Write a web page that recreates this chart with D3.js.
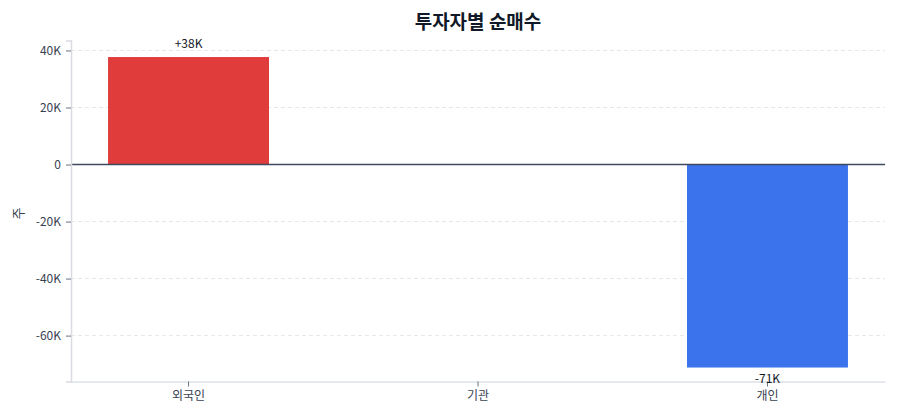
<!DOCTYPE html>
<html>
<head>
<meta charset="utf-8">
<script src="https://cdn.jsdelivr.net/npm/d3@7"></script>
<style>
  body { margin: 0; background: #fff; }
  svg text { font-family: "Noto Sans CJK KR", "Noto Sans", sans-serif; }
</style>
</head>
<body>
<div id="chart"></div>
<script>
const investors = ["외국인", "기관", "개인"];
const netBuy = [37700, 0, -71200];
const valueLabels = ["+38K", "", "-71K"];
const yTicks = [-60000, -40000, -20000, 0, 20000, 40000];
const barColors = ["#e03c3c", "#9ca3af", "#3b73ed"];

var margin = {top: 40.5, right: 15, bottom: 38.5, left: 71},
    width = 900 - margin.left - margin.right,
    height = 420 - margin.top - margin.bottom;

var svg = d3.select("#chart")
  .append("svg")
  .attr("width", 900)
  .attr("height", 420)
  .append("g")
  .attr("transform", "translate(" + margin.left + "," + margin.top + ")");

var x = d3.scaleBand()
  .domain(investors)
  .range([0, width])
  .paddingInner(0.444)
  .paddingOuter(0.128);

var y = d3.scaleLinear()
  .domain([-76100, 43500])
  .range([height, 0]);

// grid
svg.append("g")
  .selectAll("line")
  .data(yTicks.filter(d => d !== 0))
  .enter()
  .append("line")
  .attr("x1", 0)
  .attr("x2", width)
  .attr("y1", d => y(d))
  .attr("y2", d => y(d))
  .attr("stroke", "#e5e7eb")
  .attr("stroke-dasharray", "4,3");

// bars
svg.append("g")
  .selectAll("rect")
  .data(investors)
  .enter()
  .append("rect")
  .attr("x", d => x(d))
  .attr("width", x.bandwidth())
  .attr("y", (d, i) => y(Math.max(0, netBuy[i])))
  .attr("height", (d, i) => Math.abs(y(netBuy[i]) - y(0)))
  .attr("fill", (d, i) => barColors[i]);

// zero line
svg.append("line")
  .attr("x1", 0)
  .attr("x2", width)
  .attr("y1", y(0))
  .attr("y2", y(0))
  .attr("stroke", "#3f4a5e")
  .attr("stroke-width", 1.5);

// y axis
var yAxis = svg.append("g")
  .call(d3.axisLeft(y).tickValues(yTicks).tickSize(5).tickPadding(5)
    .tickFormat(d => d === 0 ? "0" : (d / 1000) + "K"));
yAxis.select(".domain").attr("stroke", "#d9dce3").attr("stroke-width", 1.5);
yAxis.selectAll(".tick line").attr("stroke", "#6b7280");
yAxis.selectAll("text").attr("fill", "#374151").style("font-size", "12px");

// x axis
var xAxis = svg.append("g")
  .attr("transform", "translate(0," + height + ")")
  .call(d3.axisBottom(x).tickSize(5).tickPadding(5).tickSizeOuter(0));
xAxis.select(".domain").attr("stroke", "#cbd2de");
xAxis.selectAll(".tick line").attr("stroke", "#6b7280");
xAxis.selectAll("text").attr("fill", "#374151").style("font-size", "12px");

// value labels
svg.append("g")
  .selectAll("text")
  .data(investors)
  .enter()
  .append("text")
  .attr("x", d => x(d) + x.bandwidth() / 2)
  .attr("y", (d, i) => netBuy[i] >= 0 ? y(netBuy[i]) - 9 : y(netBuy[i]) + 15)
  .attr("text-anchor", "middle")
  .attr("fill", "#111827")
  .style("font-size", "12px")
  .text((d, i) => valueLabels[i]);

// y label
svg.append("text")
  .attr("transform", "rotate(-90)")
  .attr("x", -(y(-20000) - 8))
  .attr("y", -margin.left + 23)
  .attr("text-anchor", "middle")
  .attr("fill", "#374151")
  .style("font-size", "13px")
  .text("주");

// title
svg.append("text")
  .attr("x", width / 2)
  .attr("y", -12)
  .attr("text-anchor", "middle")
  .attr("fill", "#111827")
  .style("font-size", "19px")
  .style("font-weight", "bold")
  .text("투자자별 순매수");
</script>
</body>
</html>
